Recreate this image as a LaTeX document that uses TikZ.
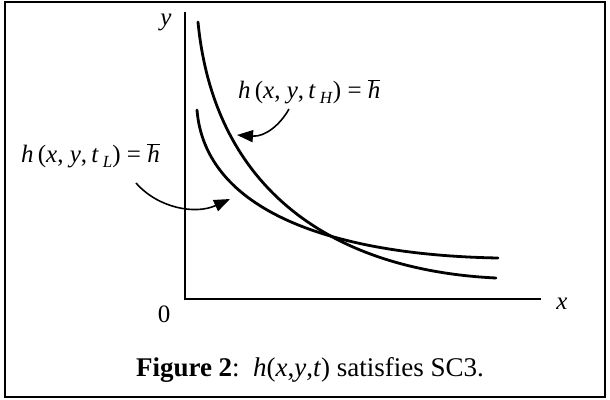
\documentclass[tikz,border=0pt]{standalone}
\usepackage{fontspec}
\setmainfont{Liberation Serif}
\usetikzlibrary{arrows.meta}
\tikzset{
  curve/.style={line width=2.8pt, line cap=round},
  axis/.style={line width=1.3pt},
  pointer/.style={line width=1.6pt, -{Triangle[length=16pt,width=12pt]}},
  lbl/.style={font=\fontsize{25}{28}\selectfont, inner sep=0pt},
}
\newcommand{\sublbl}[1]{\raisebox{-0.4ex}{\fontsize{17}{17}\selectfont\textit{#1}}}
\newcommand{\hlab}[1]{\textit{h}\,(\textit{x},\ \textit{y},\,\textit{t}\,\sublbl{#1})\ =\ $\overline{\mbox{\textit{h}}}$}
\begin{document}
\begin{tikzpicture}[x=1pt,y=-1pt]
\useasboundingbox (0,0) rectangle (610,399);
\draw[line width=2pt] (5,2) rectangle (605,397);
% axes
\coordinate (O) at (185,299);
\coordinate (ytop) at (185,12);
\coordinate (xend) at (541,299);
\draw[axis] (ytop) -- (O) -- (xend);
\node[lbl] (ylab) at (166,22) {\textit{y}};
\node[lbl] (xlab) at (562,304) {\textit{x}};
\node[lbl] (zero) at (164,314) {0};
% curves
\coordinate (hS) at (198,22);
\coordinate (hE) at (496,278);
\coordinate (lS) at (197,110);
\coordinate (lE) at (498,258);
\draw[curve] (hS) .. controls (214,188) and (330,270) .. (hE);
\draw[curve] (lS) .. controls (205,210) and (330,255) .. (lE);
% labels
\node[lbl, anchor=west] (lH) at (238,92) {\hlab{H}};
\node[lbl, anchor=west] (lL) at (21,156) {\hlab{L}};
\coordinate (aHs) at (289,109);
\coordinate (aHe) at (237,135);
\coordinate (aLs) at (136,183);
\coordinate (aLe) at (230,199);
\draw[pointer] (aHs) .. controls (280,125) and (265,137) .. (aHe);
\draw[pointer] (aLs) .. controls (158,208) and (195,215) .. (aLe);
% caption
\node[lbl, font=\fontsize{27}{30}\selectfont] (cap) at (310,370) {\textbf{Figure 2}:\ \ \textit{h}(\textit{x},\textit{y},\textit{t}) satisfies SC3.};
\end{tikzpicture}
\end{document}
